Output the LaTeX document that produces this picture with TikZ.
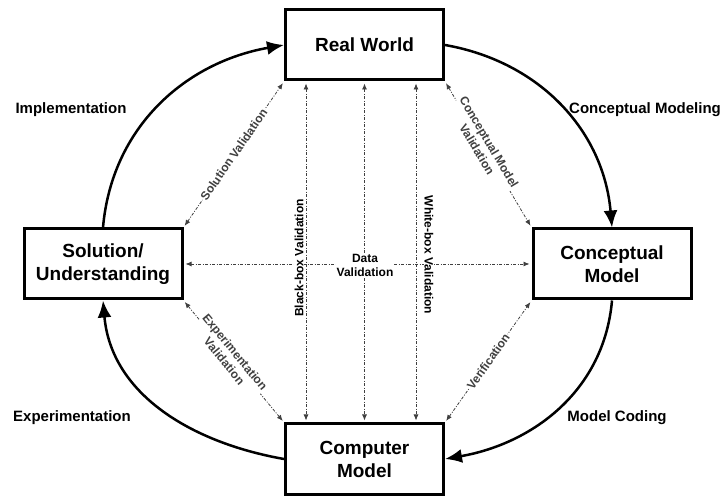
\documentclass[tikz,border=0pt]{standalone}
\usepackage{fontspec}
\setmainfont{Liberation Sans}
\usetikzlibrary{arrows.meta}

\tikzset{
  box/.style={draw, line width=3pt, minimum width=158pt, minimum height=70pt, inner sep=0pt, align=center, font=\fontsize{19}{23}\selectfont\bfseries},
  lbl/.style={font=\fontsize{15}{18}\selectfont\bfseries},
  vlbl/.style={fill=white, inner sep=1pt, align=center, font=\fontsize{12}{14}\selectfont\bfseries},
  valid/.style={black!75, line width=0.8pt, dash pattern=on 3pt off 1.5pt on 1pt off 1.5pt, {Latex[length=6pt,width=5pt]}-{Latex[length=6pt,width=5pt]}, shorten <=2pt, shorten >=2pt},
  flow/.style={line width=2.5pt, -{Latex[length=17pt,width=14pt]}}
}

\begin{document}
\begin{tikzpicture}[x=1pt,y=1pt]
  \useasboundingbox (0,0) rectangle (727,500);
  \node[box] (RW) at (364.5,455) {Real World};
  \node[box] (CM) at (612,236) {Conceptual\\Model};
  \node[box] (SU) at (103,236) {Solution/\\Understanding};
  \node[box] (Comp) at (364.5,41) {Computer\\Model};

  \draw[flow] (SU.north) to[out=85,in=190] (RW.west);
  \draw[flow] (RW.east) to[out=-10,in=95] (CM.north);
  \draw[flow] (CM.south) to[out=-95,in=10] (Comp.east);
  \draw[flow] (Comp.west) to[out=170,in=-85] (SU.south);

  \node[lbl] (impl) at (71,390) {Implementation};
  \node[lbl] (cmod) at (645,390) {Conceptual Modeling};
  \node[lbl] (expe) at (72,82) {Experimentation};
  \node[lbl] (code) at (617,82) {Model Coding};

  \draw[valid] (SU.east) -- (CM.west);
  \draw[valid] (306,0 |- RW.south) -- (306,0 |- Comp.north);
  \draw[valid] (RW.south) -- (Comp.north);
  \draw[valid] (416,0 |- RW.south) -- (416,0 |- Comp.north);
  \node[vlbl, rotate=90] (bbv) at (299,242) {Black-box Validation};
  \node[vlbl, rotate=-90] (wbv) at (429,245) {White-box Validation};
  \node[vlbl] (dv) at (365,235) {Data\\Validation};

  \draw[valid] (SU.north east) -- node[vlbl, sloped] (sv) {Solution Validation} (RW.south west);
  \draw[valid] (RW.south east) -- node[vlbl, sloped, pos=0.44] (cmv) {Conceptual Model\\Validation} (CM.north west);
  \draw[valid] (SU.south east) -- node[vlbl, sloped, pos=0.46] (ev) {Experimentation\\Validation} (Comp.north west);
  \draw[valid] (Comp.north east) -- node[vlbl, sloped] (ver) {Verification} (CM.south west);
\end{tikzpicture}
\end{document}
